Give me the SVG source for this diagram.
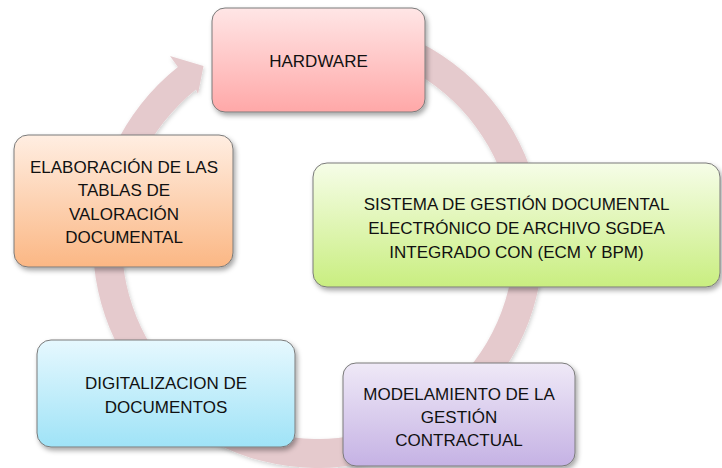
<svg xmlns="http://www.w3.org/2000/svg" width="722" height="468" viewBox="0 0 722 468">
<defs>
<filter id="sh" x="-10%" y="-10%" width="125%" height="130%">
<feDropShadow dx="2" dy="3" stdDeviation="2.5" flood-color="#000" flood-opacity="0.35"/>
</filter>
<filter id="rsh" x="-10%" y="-10%" width="120%" height="120%">
<feDropShadow dx="1" dy="2" stdDeviation="2" flood-color="#000" flood-opacity="0.18"/>
</filter>
<linearGradient id="gRed" x1="0" y1="0" x2="0" y2="1"><stop offset="0" stop-color="#ffe6e6"/><stop offset="1" stop-color="#ffa8a8"/></linearGradient>
<linearGradient id="gGreen" x1="0" y1="0" x2="0" y2="1"><stop offset="0" stop-color="#f6fde8"/><stop offset="1" stop-color="#c9ee80"/></linearGradient>
<linearGradient id="gOrange" x1="0" y1="0" x2="0" y2="1"><stop offset="0" stop-color="#ffeee2"/><stop offset="1" stop-color="#fbb784"/></linearGradient>
<linearGradient id="gBlue" x1="0" y1="0" x2="0" y2="1"><stop offset="0" stop-color="#e6f8fe"/><stop offset="1" stop-color="#9fe3f7"/></linearGradient>
<linearGradient id="gPurple" x1="0" y1="0" x2="0" y2="1"><stop offset="0" stop-color="#efe9f7"/><stop offset="1" stop-color="#c5b2e4"/></linearGradient>
<style>
.box{stroke:#7a7a7a;stroke-width:1;filter:url(#sh)}
.t{font-family:"Liberation Sans",Arial,sans-serif;font-size:17px;fill:#111;text-anchor:middle}
.ring{fill:#e5cacd;filter:url(#rsh)}
</style>
</defs>
<rect width="722" height="468" fill="#fff"/>
<g id="connectors">
<path class="ring" d="M 318 18 A 225 225 0 1 1 177.9 66.9 L 170 56 L 203.5 66 L 198 94 L 196 89.6 A 196 196 0 1 0 318 47 Z"/>
</g>
<g id="hardware">
<rect class="box" x="212" y="8" width="213" height="104" rx="13" fill="url(#gRed)"/>
<text class="t" x="318.5" y="67">HARDWARE</text>
</g>
<g id="sgdea">
<rect class="box" x="313" y="163" width="407" height="124" rx="14" fill="url(#gGreen)"/>
<text class="t" x="516.5" y="210">SISTEMA DE GESTIÓN DOCUMENTAL</text>
<text class="t" x="516.5" y="234">ELECTRÓNICO DE ARCHIVO SGDEA</text>
<text class="t" x="516.5" y="258">INTEGRADO CON (ECM Y BPM)</text>
</g>
<g id="modelamiento">
<rect class="box" x="343" y="363" width="232" height="103" rx="13" fill="url(#gPurple)"/>
<text class="t" x="459" y="400">MODELAMIENTO DE LA</text>
<text class="t" x="459" y="423">GESTIÓN</text>
<text class="t" x="459" y="446">CONTRACTUAL</text>
</g>
<g id="digitalizacion">
<rect class="box" x="37" y="340" width="258" height="107" rx="14" fill="url(#gBlue)"/>
<text class="t" x="166" y="389">DIGITALIZACION DE</text>
<text class="t" x="166" y="413">DOCUMENTOS</text>
</g>
<g id="elaboracion">
<rect class="box" x="14" y="135" width="219" height="132" rx="14" fill="url(#gOrange)"/>
<text class="t" x="124" y="173">ELABORACIÓN DE LAS</text>
<text class="t" x="124" y="196">TABLAS DE</text>
<text class="t" x="124" y="220">VALORACIÓN</text>
<text class="t" x="124" y="243">DOCUMENTAL</text>
</g>
</svg>
